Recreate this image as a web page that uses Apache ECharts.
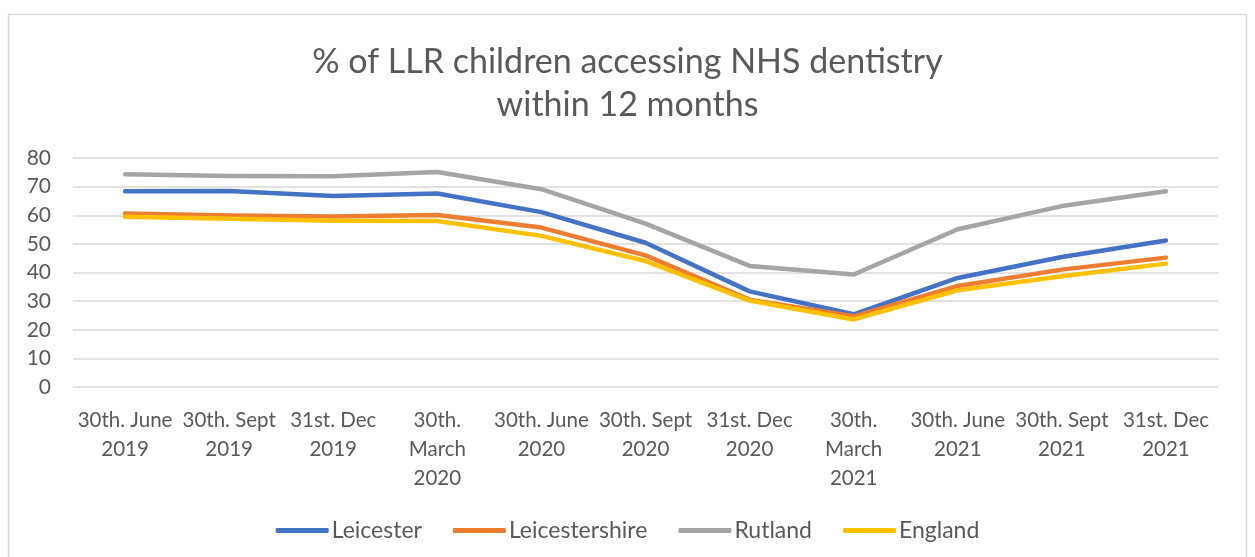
<!DOCTYPE html>
<html>
<head>
<meta charset="utf-8">
<script src="https://cdn.jsdelivr.net/npm/echarts@6/dist/echarts.min.js"></script>
<style>
html,body{margin:0;padding:0;background:#fff;}
#c{width:1255px;height:557px;}
</style>
</head>
<body>
<div id="c"></div>
<script>
const categories = [
  "30th. June\n2019", "30th. Sept\n2019", "31st. Dec\n2019", "30th.\nMarch\n2020",
  "30th. June\n2020", "30th. Sept\n2020", "31st. Dec\n2020", "30th.\nMarch\n2021",
  "30th. June\n2021", "30th. Sept\n2021", "31st. Dec\n2021"
];
const leicester      = [68.4, 68.5, 66.7, 67.6, 61.1, 50.4, 33.4, 25.4, 38.1, 45.4, 51.2];
const leicestershire = [60.6, 59.9, 59.6, 60.1, 55.7, 46.0, 30.5, 24.7, 35.3, 41.0, 45.2];
const rutland        = [74.3, 73.7, 73.6, 75.1, 69.1, 57.1, 42.3, 39.3, 55.1, 63.2, 68.4];
const england        = [59.5, 58.8, 58.1, 58.0, 52.8, 44.0, 30.2, 23.6, 33.8, 38.7, 43.1];
const yTicks = { min: 0, max: 80, interval: 10 };

const FONT = 'Lato, "Open Sans", sans-serif';
const TXT = '#595959';

function line(name, data, color) {
  return {
    name, type: 'line', data, symbol: 'none', smooth: false,
    lineStyle: { color, width: 4.5, cap: 'round', join: 'round' },
    itemStyle: { color },
    emphasis: { disabled: true }
  };
}

const chart = echarts.init(document.getElementById('c'));
chart.setOption({
  animation: false,
  backgroundColor: '#fff',
  graphic: [{
    type: 'rect',
    shape: { x: 8.5, y: 14.5, width: 1238, height: 600 },
    style: { fill: 'none', stroke: '#d9d9d9', lineWidth: 1.5 },
    silent: true
  }],
  title: {
    text: '% of LLR children accessing NHS dentistry\nwithin 12 months',
    left: 'center',
    top: 36,
    textStyle: { fontFamily: FONT, fontSize: 34, fontWeight: 'normal', color: TXT, lineHeight: 43 }
  },
  legend: {
    bottom: 10,
    left: 'center',
    itemWidth: 53,
    itemHeight: 5,
    itemGap: 31,
    icon: 'roundRect',
    textStyle: { fontFamily: FONT, fontSize: 23, color: TXT, padding: [0, 0, 0, -2] },
    data: ['Leicester', 'Leicestershire', 'Rutland', 'England']
  },
  grid: { left: 73, right: 37, top: 158, bottom: 170, containLabel: false },
  xAxis: {
    type: 'category',
    data: categories,
    boundaryGap: true,
    axisLine: { show: false },
    axisTick: { show: false },
    axisLabel: { interval: 0, fontFamily: FONT, fontSize: 20.5, color: TXT, lineHeight: 29, margin: 19 }
  },
  yAxis: {
    type: 'value',
    min: yTicks.min, max: yTicks.max, interval: yTicks.interval,
    axisLine: { show: false },
    axisTick: { show: false },
    splitLine: { lineStyle: { color: '#d9d9d9', width: 1.5 } },
    axisLabel: { fontFamily: FONT, fontSize: 21, color: TXT, margin: 22 }
  },
  series: [
    line('Leicester', leicester, '#4472C4'),
    line('Leicestershire', leicestershire, '#ED7D31'),
    line('Rutland', rutland, '#A5A5A5'),
    line('England', england, '#FFC000')
  ]
});
</script>
</body>
</html>
